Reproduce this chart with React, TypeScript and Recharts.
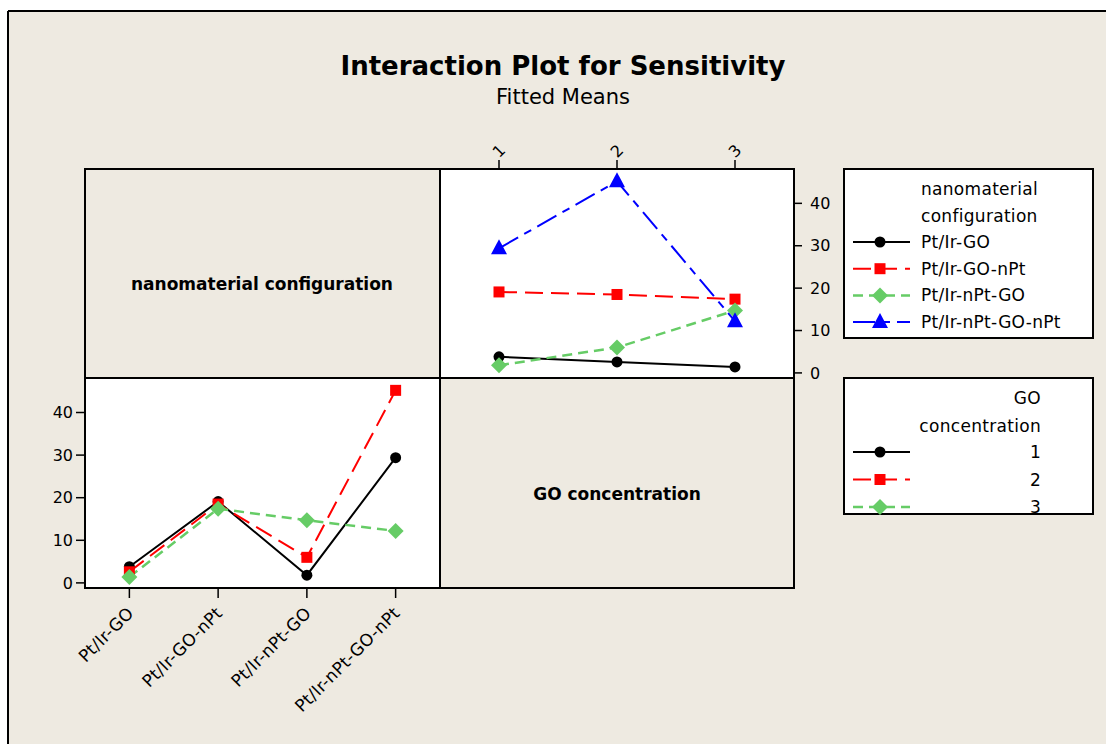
import React from 'react';
import { LineChart, Line, XAxis, YAxis } from 'recharts';

// categories
const configs = ['Pt/Ir-GO', 'Pt/Ir-GO-nPt', 'Pt/Ir-nPt-GO', 'Pt/Ir-nPt-GO-nPt'];
const concentrations = [1, 2, 3];

// fitted means per configuration, one value per GO concentration (1, 2, 3)
const ptIrGO = [3.8, 2.6, 1.4];
const ptIrGOnPt = [19.1, 18.5, 17.4];
const ptIrNptGO = [1.8, 6.0, 14.7];
const ptIrNptGOnPt = [29.4, 45.2, 12.2];

const yTicks = [0, 10, 20, 30, 40];

const means = [ptIrGO, ptIrGOnPt, ptIrNptGO, ptIrNptGOnPt];

const FONT = '"DejaVu Sans", Verdana, sans-serif';
const BG = '#eeeae1';

type Shape = 'circle' | 'square' | 'diamond' | 'triangle';

const styles: { color: string; dash?: string; shape: Shape; width: number }[] = [
  { color: '#000000', dash: undefined, shape: 'circle', width: 2 },
  { color: '#ff0000', dash: '18 8', shape: 'square', width: 2 },
  { color: '#66cc66', dash: '10 6', shape: 'diamond', width: 2.5 },
  { color: '#0000ff', dash: '22 7 8 7', shape: 'triangle', width: 2 },
];

// top-right panel: x = GO concentration, one line per configuration
const topData = concentrations.map((c, j) => {
  const row: any = { x: c };
  means.forEach((m, i) => (row['s' + i] = m[j]));
  return row;
});

// bottom-left panel: x = configuration, one line per GO concentration
const bottomData = configs.map((name, i) => {
  const row: any = { x: i + 1, name };
  concentrations.forEach((c, j) => (row['g' + j] = means[i][j]));
  return row;
});

const Marker = ({ cx, cy, shape, color }: { cx: number; cy: number; shape: Shape; color: string }) => {
  if (shape === 'circle') return <circle cx={cx} cy={cy} r={5.5} fill={color} />;
  if (shape === 'square') return <rect x={cx - 5.5} y={cy - 5.5} width={11} height={11} fill={color} />;
  if (shape === 'diamond')
    return <polygon points={`${cx},${cy - 8} ${cx + 8},${cy} ${cx},${cy + 8} ${cx - 8},${cy}`} fill={color} />;
  return <polygon points={`${cx},${cy - 9} ${cx + 8},${cy + 6} ${cx - 8},${cy + 6}`} fill={color} />;
};

const makeDot = (shape: Shape, color: string) => (props: any) => {
  const { cx, cy, index } = props;
  if (cx == null || cy == null) return <g key={index} />;
  return <Marker key={index} cx={cx} cy={cy} shape={shape} color={color} />;
};

const TopTick = ({ x, y, payload }: any) => (
  <text
    x={x}
    y={y - 9}
    transform={`rotate(-45 ${x} ${y - 9})`}
    textAnchor="middle"
    dominantBaseline="central"
    fontSize={16}
    fontFamily={FONT}
    fill="#000"
  >
    {payload.value}
  </text>
);

const BottomTick = ({ x, y, payload }: any) => (
  <text
    x={x + 1}
    y={y + 12}
    transform={`rotate(-45 ${x + 1} ${y + 12})`}
    textAnchor="end"
    dominantBaseline="central"
    fontSize={17}
    letterSpacing={0.3}
    fontFamily={FONT}
    fill="#000"
  >
    {configs[payload.value - 1]}
  </text>
);

const LegendRow = ({ y, style, label, labelX, anchor }: any) => (
  <g>
    <line x1={853} x2={910} y1={y} y2={y} stroke={style.color} strokeWidth={style.width} strokeDasharray={style.dash} />
    <Marker cx={880} cy={y} shape={style.shape} color={style.color} />
    <text x={labelX} y={y} dominantBaseline="central" textAnchor={anchor} fontSize={17} letterSpacing={0.3} fontFamily={FONT}>
      {label}
    </text>
  </g>
);

const Y_DOMAIN: [number, number] = [-1.2, 48.1];

export default function App() {
  return (
    <div style={{ position: 'absolute', left: 0, top: 0, width: 1106, height: 744, overflow: 'hidden', background: '#fff' }}>
      <svg width={1106} height={744} style={{ position: 'absolute', left: 0, top: 0 }}>
        <rect x={9} y={12} width={1100} height={740} fill={BG} />
        <line x1={8} y1={11} x2={8} y2={744} stroke="#000" strokeWidth={2} />
        <line x1={8} y1={11} x2={1106} y2={11} stroke="#000" strokeWidth={2} />

        <text x={563} y={75} textAnchor="middle" fontSize={26} fontWeight="bold" fontFamily={FONT}>
          Interaction Plot for Sensitivity
        </text>
        <text x={563} y={104} textAnchor="middle" fontSize={21} fontFamily={FONT}>
          Fitted Means
        </text>

        <rect x={440} y={169} width={354} height={209} fill="#fff" />
        <rect x={85} y={378} width={355} height={210} fill="#fff" />
        <rect x={85} y={169} width={709} height={419} fill="none" stroke="#000" strokeWidth={2} />
        <line x1={440} y1={169} x2={440} y2={588} stroke="#000" strokeWidth={2} />
        <line x1={85} y1={378} x2={794} y2={378} stroke="#000" strokeWidth={2} />

        <text x={262} y={284} textAnchor="middle" dominantBaseline="central" fontSize={17} fontWeight="bold" fontFamily={FONT}>
          nanomaterial configuration
        </text>
        <text x={617} y={494} textAnchor="middle" dominantBaseline="central" fontSize={17} fontWeight="bold" fontFamily={FONT}>
          GO concentration
        </text>

        <rect x={844} y={169} width={249} height={169} fill="#fff" stroke="#000" strokeWidth={2} />
        <text x={921} y={189} dominantBaseline="central" fontSize={17} letterSpacing={0.3} fontFamily={FONT}>nanomaterial</text>
        <text x={921} y={216} dominantBaseline="central" fontSize={17} letterSpacing={0.3} fontFamily={FONT}>configuration</text>
        {configs.map((c, i) => (
          <LegendRow key={c} y={242 + i * 26.7} style={styles[i]} label={c} labelX={921} anchor="start" />
        ))}

        <rect x={844} y={378} width={249} height={136} fill="#fff" stroke="#000" strokeWidth={2} />
        <text x={1041} y={398} textAnchor="end" dominantBaseline="central" fontSize={17} letterSpacing={0.3} fontFamily={FONT}>GO</text>
        <text x={1041} y={426} textAnchor="end" dominantBaseline="central" fontSize={17} letterSpacing={0.3} fontFamily={FONT}>concentration</text>
        {concentrations.map((c, j) => (
          <LegendRow key={c} y={452 + j * 27.5} style={styles[j]} label={String(c)} labelX={1041} anchor="end" />
        ))}
      </svg>

      <div style={{ position: 'absolute', left: 0, top: 0 }}>
        <LineChart width={1106} height={744} data={topData} margin={{ top: 129, left: 440, right: 262, bottom: 366 }}>
          <XAxis
            xAxisId={0}
            type="number"
            dataKey="x"
            orientation="top"
            height={40}
            domain={[0.5, 3.5]}
            ticks={concentrations}
            allowDataOverflow
            axisLine={false}
            tickSize={9}
            tickMargin={0}
            tickLine={{ stroke: '#000', strokeWidth: 1.5 }}
            tick={<TopTick />}
          />
          <YAxis
            yAxisId={0}
            orientation="right"
            width={50}
            type="number"
            domain={Y_DOMAIN}
            ticks={yTicks}
            allowDataOverflow
            axisLine={false}
            tickSize={8}
            tickMargin={8}
            tickLine={{ stroke: '#000', strokeWidth: 1.5 }}
            tick={{ fontSize: 16, fill: '#000', fontFamily: FONT }}
          />
          {means.map((m, i) => (
            <Line
              key={i}
              dataKey={'s' + i}
              stroke={styles[i].color}
              strokeWidth={styles[i].width}
              strokeDasharray={styles[i].dash}
              dot={makeDot(styles[i].shape, styles[i].color)}
              isAnimationActive={false}
            />
          ))}
        </LineChart>
      </div>

      <div style={{ position: 'absolute', left: 0, top: 0 }}>
        <LineChart width={1106} height={744} data={bottomData} margin={{ top: 378, left: 25, right: 666, bottom: 96 }}>
          <XAxis
            type="number"
            dataKey="x"
            height={60}
            domain={[0.5, 4.5]}
            ticks={[1, 2, 3, 4]}
            allowDataOverflow
            axisLine={false}
            tickSize={10}
            tickMargin={0}
            tickLine={{ stroke: '#000', strokeWidth: 1.5 }}
            tick={<BottomTick />}
          />
          <YAxis
            width={60}
            type="number"
            domain={Y_DOMAIN}
            ticks={yTicks}
            allowDataOverflow
            axisLine={false}
            tickSize={9}
            tickMargin={3}
            tickLine={{ stroke: '#000', strokeWidth: 1.5 }}
            tick={{ fontSize: 16, fill: '#000', fontFamily: FONT }}
          />
          {concentrations.map((c, j) => (
            <Line
              key={c}
              dataKey={'g' + j}
              stroke={styles[j].color}
              strokeWidth={styles[j].width}
              strokeDasharray={styles[j].dash}
              dot={makeDot(styles[j].shape, styles[j].color)}
              isAnimationActive={false}
            />
          ))}
        </LineChart>
      </div>
    </div>
  );
}
